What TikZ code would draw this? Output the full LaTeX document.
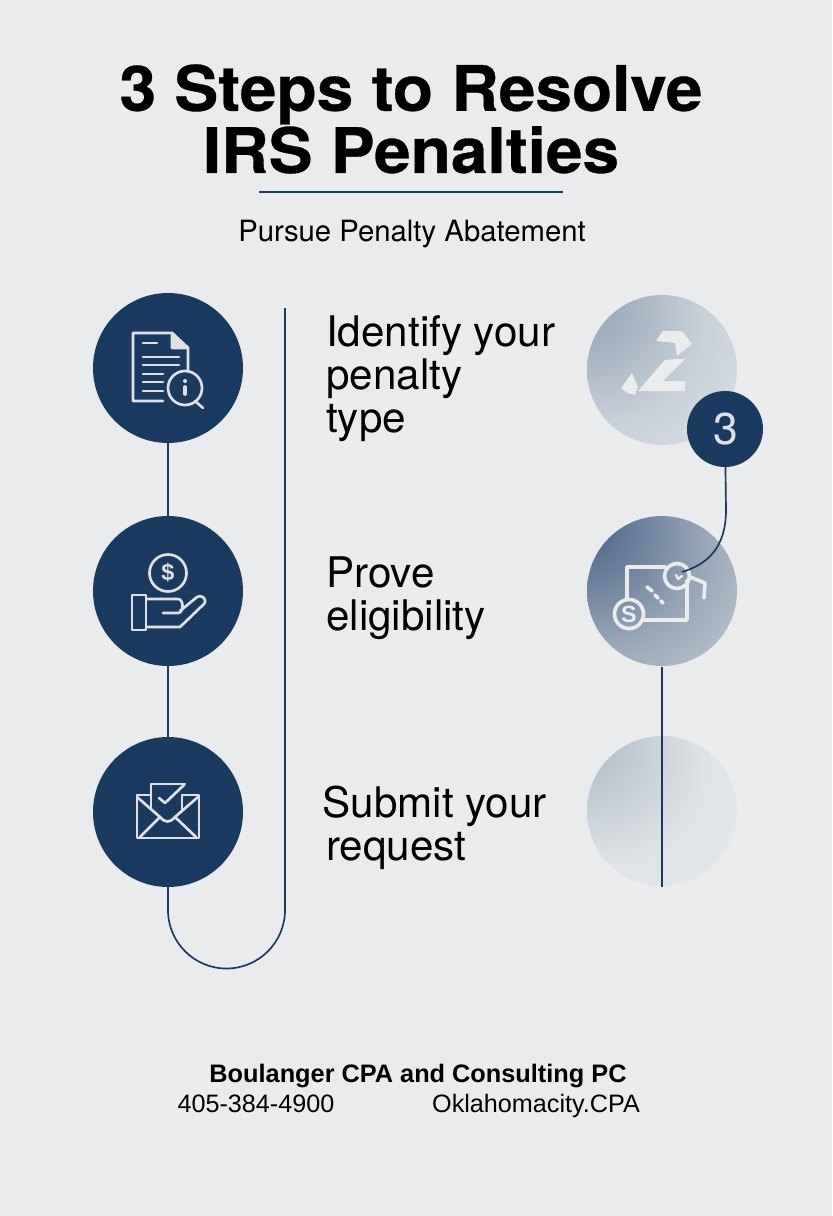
\documentclass[tikz,border=0pt]{standalone}
\usepackage{fontspec}
\setmainfont{Liberation Sans}
\newfontfamily\headfont[FakeStretch=1.05,FakeBold=0.5]{TeX Gyre Heros}
\newfontfamily\bodyfont{TeX Gyre Heros}
\definecolor{navy}{HTML}{1A3A5F}
\definecolor{paper}{HTML}{EAEBED}
\definecolor{iconlight}{HTML}{DDE1E6}
\definecolor{ghostAa}{HTML}{8B9CB0}
\definecolor{ghostAb}{HTML}{C8D0D8}
\definecolor{ghostAc}{HTML}{E8EAEC}
\definecolor{ghostBa}{HTML}{3F5A7F}
\definecolor{ghostBb}{HTML}{98A6B8}
\definecolor{ghostBc}{HTML}{E3E6E8}
\definecolor{ghostCa}{HTML}{A9B6C2}
\definecolor{ghostCb}{HTML}{DFE3E6}
\definecolor{ghostCc}{HTML}{EAEBED}
\pgfdeclareradialshading{fadeA}{\pgfpoint{-30bp}{25bp}}{color(0bp)=(ghostAa); color(34bp)=(ghostAb); color(66bp)=(ghostAc); color(100bp)=(ghostAc)}
\pgfdeclareradialshading{fadeB}{\pgfpoint{-30bp}{25bp}}{color(0bp)=(ghostBa); color(34bp)=(ghostBb); color(70bp)=(ghostBc); color(100bp)=(ghostBc)}
\pgfdeclareradialshading{fadeC}{\pgfpoint{-30bp}{25bp}}{color(0bp)=(ghostCa); color(34bp)=(ghostCb); color(60bp)=(ghostCc); color(100bp)=(ghostCc)}
\tikzset{
	stepdot/.style={circle, fill=navy, minimum size=4.5cm, inner sep=0pt},
	ghostdot/.style={circle, minimum size=4.5cm, inner sep=0pt},
	badge/.style={circle, fill=navy, text=iconlight, minimum size=2.28cm, inner sep=0pt, font=\bodyfont\fontsize{38}{38}\selectfont},
	wire/.style={draw=navy, line width=0.5mm},
	iconline/.style={draw=iconlight, line width=0.8mm, line cap=round, line join=round},
	markline/.style={draw=paper, line width=1.1mm, line cap=round, line join=round},
	steptext/.style={anchor=west, align=left, inner sep=0pt, font=\bodyfont\fontsize{36}{36.7}\selectfont},
	foot/.style={anchor=base, inner sep=0pt, font=\fontsize{21.5}{24}\selectfont}
}

\begin{document}
\begin{tikzpicture}[x=0.03cm, y=-0.03cm]
	%%%%% START %%%%%
	\useasboundingbox (0, 0) rectangle (832, 1216);
	\fill[paper] (0, 0) rectangle (832, 1216);

	\node[align=center, inner sep=0pt, font=\headfont\bfseries\fontsize{53.5}{53}\selectfont] (title) at (411, 119) {3 Steps to Resolve\\IRS Penalties};
	\coordinate (ruleL) at (259, 192);
	\coordinate (ruleR) at (563, 192);
	\draw[navy, line width=0.35mm] (ruleL) -- (ruleR);
	\node[inner sep=0pt, font=\bodyfont\fontsize{25}{25}\selectfont] (subtitle) at (412, 234) {Pursue Penalty Abatement};

	\node[stepdot] (stepA) at (168, 368) {};
	\node[stepdot] (stepB) at (168, 591) {};
	\node[stepdot] (stepC) at (168, 812) {};
	\coordinate (loopL) at (168, 910);
	\coordinate (loopTop) at (285, 308);
	\draw[wire] (stepA) -- (stepB);
	\draw[wire] (stepB) -- (stepC);
	\draw[wire] (stepC) -- (loopL) arc (180:0:58.5) -- (loopTop);

	\node[steptext] (textA) at (326, 379) {Identify your\\penalty\\type};
	\node[steptext] (textB) at (326, 598) {Prove\\eligibility};
	\node[steptext] (textC) at (326, 828) {\hspace*{-3pt}Submit your\\request};

	% document icon
	\draw[iconline] (163, 401) -- (133, 401) -- (133, 333) -- (172, 333) -- (188, 348) -- (188, 371);
	\draw[iconline, fill=iconlight] (172, 333) -- (172, 348) -- (188, 348) -- cycle;
	\draw[iconline] (143, 343) -- (157, 343);
	\draw[iconline] (143, 357) -- (179, 357);
	\draw[iconline] (143, 365) -- (179, 365);
	\draw[iconline] (143, 374) -- (163, 374);
	\draw[iconline] (143, 382) -- (163, 382);
	\draw[iconline] (143, 391) -- (163, 391);
	\draw[iconline] (185, 388) circle (17);
	\draw[iconline] (195, 401) -- (203, 408);
	\draw[iconline, line width=1.1mm] (185, 387) -- (185, 394);
	\fill[iconlight] (185, 381) circle (2);

	% hand icon
	\draw[iconline] (168, 573) circle (18.5);
	\node[inner sep=0pt, text=iconlight, font=\bfseries\fontsize{20}{20}\selectfont] (dollarA) at (168, 573) {\$};
	\draw[iconline] (132, 595) rectangle (146, 630);
	\draw[iconline] (147, 599) -- (178, 599) .. controls (184, 599) and (184, 613) .. (178, 613) -- (163, 613);
	\draw[iconline] (180, 611) -- (197, 597) .. controls (201, 594) and (208, 599) .. (204, 604) -- (180, 627) -- (147, 627);

	% envelope icon
	\draw[iconline] (151, 795) -- (137, 795) -- (137, 838) -- (199, 838) -- (199, 795) -- (183, 795);
	\draw[iconline] (151, 808) -- (151, 784) -- (185, 784);
	\draw[iconline] (182, 795) -- (182, 810);
	\draw[iconline] (159, 798) -- (165, 803) -- (184, 785);
	\draw[iconline] (137, 797) -- (160, 817) .. controls (165, 823) and (170, 823) .. (175, 817) -- (198, 797);
	\draw[iconline] (140, 837) -- (160, 817);
	\draw[iconline] (196, 837) -- (175, 817);

	% faded circles on the right
	\node[ghostdot, shade, shading=fadeA] (ghostA) at (662, 370) {};
	\node[ghostdot, shade, shading=fadeB] (ghostB) at (662, 591) {};
	\node[ghostdot, shade, shading=fadeC] (ghostC) at (662, 811) {};

	% zigzag mark
	\fill[paper] (663, 331) -- (682, 331) -- (692, 344) -- (677, 356) -- (675, 343) -- (656, 341) -- cycle;
	\fill[paper] (677, 359) -- (685, 359) -- (663, 381) -- (685, 381) -- (685, 391) -- (638, 391) -- (665, 360) -- cycle;
	\fill[paper] (632, 373) -- (638, 387) -- (635, 395) -- (627, 393) -- (621, 388) -- cycle;

	% receipt icon
	\draw[markline] (627, 597) -- (627, 567) -- (665, 567);
	\draw[markline] (643, 620) -- (687, 620) -- (687, 581);
	\draw[markline] (647, 587) -- (652, 591);
	\draw[markline] (655, 595) -- (658, 598);
	\draw[markline] (661, 601) -- (663, 603);
	\draw[markline] (629, 614) circle (14.5);
	\node[inner sep=0pt, text=paper, font=\bfseries\fontsize{20}{20}\selectfont] (dollarB) at (629, 614) {S};
	\draw[markline] (677, 576) circle (12.5);
	\draw[markline] (690, 577) -- (705, 583) -- (704, 598);
	\draw[markline, line width=0.7mm] (676, 575) -- (678, 579) -- (682, 576);

	% badge and the lines around it
	\node[badge] (badgeC) at (725, 429) {\hspace*{1pt}3};
	\coordinate (wireEnd) at (682, 572);
	\coordinate (dropTop) at (662, 667);
	\coordinate (dropEnd) at (662, 887);
	\draw[wire] (badgeC) -- (726, 510) .. controls (726, 550) and (705, 565) .. (wireEnd);
	\draw[wire] (dropTop) -- (dropEnd);

	\node[foot, font=\bfseries\fontsize{21.6}{24}\selectfont] (firm) at (418, 1082) {Boulanger CPA and Consulting PC};
	\node[foot] (phone) at (256, 1112) {405-384-4900};
	\node[foot] (site) at (536, 1112) {Oklahomacity.CPA};
	%%%%% END %%%%%
\end{tikzpicture}
\end{document}
